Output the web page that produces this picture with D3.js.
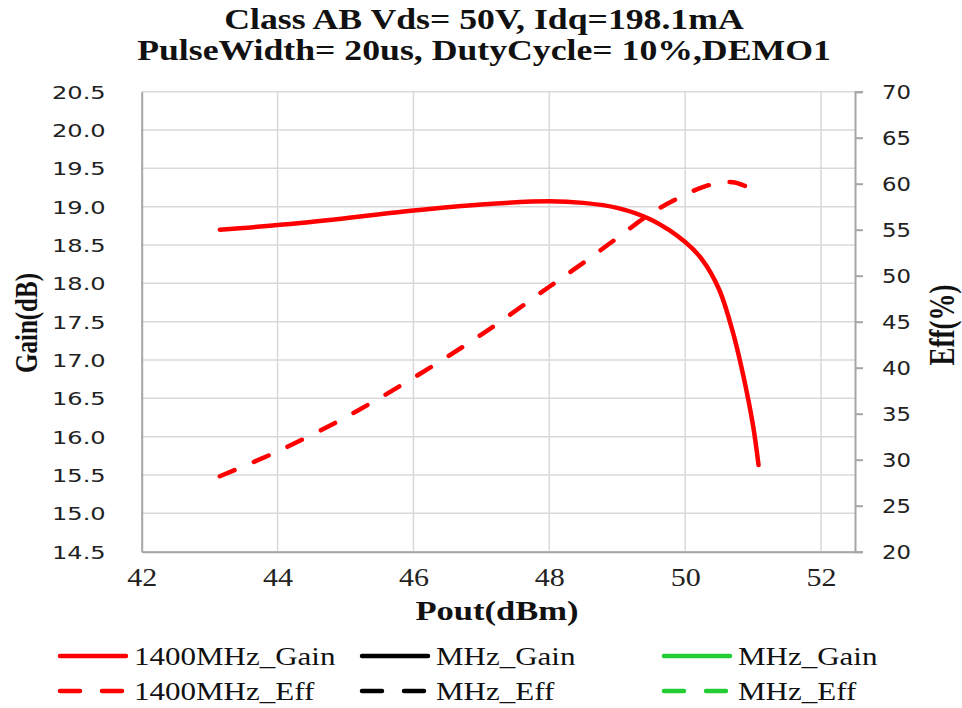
<!DOCTYPE html>
<html>
<head>
<meta charset="utf-8">
<script src="https://cdn.jsdelivr.net/npm/d3@7"></script>
<style>
  html, body { margin: 0; padding: 0; background: #ffffff; }
  svg { display: block; }
</style>
</head>
<body>
<svg id="chart" width="962" height="708"></svg>
<script>
// ---------------- DATA ----------------
const titleLines = ["Class AB Vds= 50V, Idq=198.1mA", "PulseWidth= 20us, DutyCycle= 10%,DEMO1"];
const xTitle = "Pout(dBm)";
const yLeftTitle = "Gain(dB)";
const yRightTitle = "Eff(%)";

const xTicks = [42, 44, 46, 48, 50, 52];
const gainTicks = [14.5, 15.0, 15.5, 16.0, 16.5, 17.0, 17.5, 18.0, 18.5, 19.0, 19.5, 20.0, 20.5];
const effTicks = [20, 25, 30, 35, 40, 45, 50, 55, 60, 65, 70];

const pout1400 = [43.15, 44, 45, 46, 47, 48, 48.5, 49, 49.5, 50, 50.25, 50.5, 50.7, 50.85, 51.0, 51.08];
const gain1400 = [18.70, 18.76, 18.85, 18.95, 19.03, 19.07, 19.05, 18.985, 18.83, 18.54, 18.31, 17.92, 17.37, 16.82, 16.14, 15.63];
const eff1400  = [28.2, 30.9, 34.6, 38.9, 43.6, 48.8, 51.4, 54.1, 56.8, 58.8, 59.6, 60.1, 60.15, 59.85, 59.35, 59.0];

const legendLabels = ["1400MHz_Gain", "MHz_Gain", "MHz_Gain", "1400MHz_Eff", "MHz_Eff", "MHz_Eff"];
const legendColors = ["#ff0000", "#000000", "#22cc33", "#ff0000", "#000000", "#22cc33"];
const legendDashed = [false, false, false, true, true, true];

// ---------------- LAYOUT ----------------
const svg = d3.select("#chart");
const W = 962, H = 708;
const plot = { left: 141.7, right: 855, top: 91.7, bottom: 551.7 };
const SERIF = "'Liberation Serif', 'Times New Roman', serif";
const SANS = "'DejaVu Sans', Verdana, sans-serif";
const GRID = "#d9d9d9";
const AXIS = "#a6a6a6";

svg.append("rect").attr("width", W).attr("height", H).attr("fill", "#ffffff");

const x = d3.scaleLinear().domain([42, 52.5]).range([plot.left, plot.right]);
const yG = d3.scaleLinear().domain([14.5, 20.5]).range([plot.bottom, plot.top]);
const yE = d3.scaleLinear().domain([20, 70]).range([plot.bottom, plot.top]);

function stretch(sel, sx) {
  sel.each(function () {
    const w = this.getComputedTextLength();
    d3.select(this).attr("textLength", w * sx).attr("lengthAdjust", "spacingAndGlyphs");
  });
}

// gridlines
svg.append("g").selectAll("line").data(gainTicks).join("line")
  .attr("x1", plot.left).attr("x2", plot.right)
  .attr("y1", d => yG(d)).attr("y2", d => yG(d))
  .attr("stroke", GRID).attr("stroke-width", 1.5);
svg.append("g").selectAll("line").data(xTicks.filter(d => d > 42)).join("line")
  .attr("x1", d => x(d)).attr("x2", d => x(d))
  .attr("y1", plot.top).attr("y2", plot.bottom)
  .attr("stroke", GRID).attr("stroke-width", 1.5);

// left axis
const gL = svg.append("g").attr("transform", `translate(${plot.left},0)`)
  .call(d3.axisLeft(yG).tickValues(gainTicks).tickFormat(d3.format(".1f")).tickSize(0).tickPadding(36));
gL.select(".domain").attr("stroke", AXIS).attr("stroke-width", 2);
gL.selectAll("text").attr("font-family", SANS).attr("font-size", 18).attr("fill", "#222").attr("dy", "0.36em");
stretch(gL.selectAll("text"), 1.34);

// right axis
const gR = svg.append("g").attr("transform", `translate(${plot.right},0)`)
  .call(d3.axisRight(yE).tickValues(effTicks).tickFormat(d3.format("d")).tickSize(8).tickSizeOuter(8).tickPadding(19));
gR.select(".domain").attr("stroke", AXIS).attr("stroke-width", 2);
gR.selectAll(".tick line").attr("stroke", AXIS).attr("stroke-width", 2);
gR.selectAll("text").attr("font-family", SANS).attr("font-size", 19).attr("fill", "#222").attr("dy", "0.36em");
stretch(gR.selectAll("text"), 1.2);

// bottom axis
const gB = svg.append("g").attr("transform", `translate(0,${plot.bottom})`)
  .call(d3.axisBottom(x).tickValues(xTicks).tickFormat(d3.format("d")).tickSize(0).tickPadding(17));
gB.select(".domain").attr("stroke", AXIS).attr("stroke-width", 2);
gB.selectAll("text").attr("font-family", SERIF).attr("font-size", 25).attr("fill", "#222").attr("dy", "0.71em");
stretch(gB.selectAll("text"), 1.2);

// series
const ptsG = pout1400.map((p, i) => [p, gain1400[i]]);
const ptsE = pout1400.map((p, i) => [p, eff1400[i]]);
const lineG = d3.line().x(d => x(d[0])).y(d => yG(d[1])).curve(d3.curveCatmullRom.alpha(0.5));
const lineE = d3.line().x(d => x(d[0])).y(d => yE(d[1])).curve(d3.curveCatmullRom.alpha(0.5));

svg.append("path").attr("d", lineE(ptsE)).attr("fill", "none")
  .attr("stroke", "#ff0000").attr("stroke-width", 4.5)
  .attr("stroke-linecap", "round").attr("stroke-dasharray", "16 21");
svg.append("path").attr("d", lineG(ptsG)).attr("fill", "none")
  .attr("stroke", "#ff0000").attr("stroke-width", 4.5).attr("stroke-linecap", "round");

// titles
svg.append("g").selectAll("text").data(titleLines).join("text")
  .attr("x", 484).attr("y", (d, i) => 29 + i * 31)
  .attr("text-anchor", "middle").attr("font-family", SERIF).attr("font-weight", "bold")
  .attr("font-size", 30).attr("fill", "#111").text(d => d)
  .call(s => stretch(s, 1.19));

const xt = svg.append("text").attr("x", 497).attr("y", 620)
  .attr("text-anchor", "middle").attr("font-family", SERIF).attr("font-weight", "bold")
  .attr("font-size", 27).attr("fill", "#111").text(xTitle);
stretch(xt, 1.28);

svg.append("text").attr("transform", "translate(37,323) rotate(-90) scale(1,1.3)")
  .attr("text-anchor", "middle").attr("font-family", SERIF).attr("font-weight", "bold")
  .attr("font-size", 25).attr("fill", "#111").text(yLeftTitle);

svg.append("text").attr("transform", "translate(954,325) rotate(-90) scale(1,1.3)")
  .attr("text-anchor", "middle").attr("font-family", SERIF).attr("font-weight", "bold")
  .attr("font-size", 27).attr("fill", "#111").text(yRightTitle);

// legend
const colX = [58, 360, 662];
const rowY = [656, 691];
const leg = svg.append("g").selectAll("g").data(legendLabels).join("g")
  .attr("transform", (d, i) => `translate(${colX[i % 3]},${rowY[Math.floor(i / 3)]})`);
leg.append("line").attr("x1", 2).attr("x2", 68).attr("y1", 0).attr("y2", 0)
  .attr("stroke", (d, i) => legendColors[i]).attr("stroke-width", 4.5)
  .attr("stroke-linecap", "round")
  .attr("stroke-dasharray", (d, i) => legendDashed[i] ? "20 22" : null);
leg.append("text").attr("x", 76).attr("y", 0).attr("dy", "0.34em")
  .attr("font-family", SERIF).attr("font-size", 25).attr("fill", "#111").text(d => d)
  .call(s => stretch(s, 1.24));
</script>
</body>
</html>
